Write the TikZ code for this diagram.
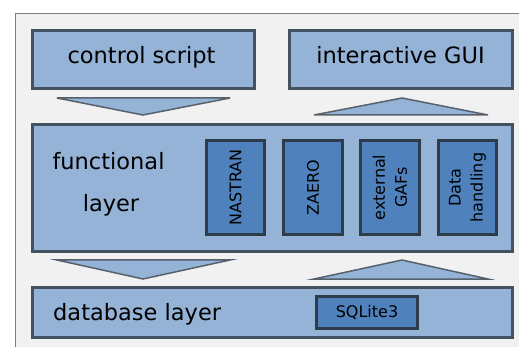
\documentclass[tikz,border=0pt]{standalone}
\usepackage{fontspec}
\setmainfont{DejaVu Sans}
\definecolor{lightbox}{HTML}{95B3D7}
\definecolor{darkbox}{HTML}{4F81BD}
\definecolor{edgecol}{HTML}{44515E}
\definecolor{inneredge}{HTML}{2E3B48}
\definecolor{bgfill}{HTML}{F1F1F1}
\definecolor{framecol}{HTML}{7F7F7F}
\definecolor{tricol}{HTML}{56616C}
\tikzset{
  layerbox/.style={draw=edgecol, fill=lightbox, line width=2.5pt, inner sep=0pt},
  modbox/.style={draw=inneredge, fill=darkbox, line width=3pt, inner sep=0pt},
  bigtext/.style={font=\fontsize{22.5}{26}\selectfont, inner sep=0pt, text=black},
  smalltext/.style={font=\fontsize{16}{22}\selectfont, inner sep=0pt, align=center, text=black},
  flowtri/.style={draw=tricol, fill=lightbox, line width=1.5pt, line join=miter}
}
\begin{document}
\begin{tikzpicture}[x=1pt,y=-1pt]
\useasboundingbox (0,0) rectangle (519,347);
\clip (0,0) rectangle (519,347);
\fill[white] (0,0) rectangle (519,347);
\draw[draw=framecol, fill=bgfill, line width=1.5pt] (15.5,13.5) rectangle (540,370);

% layer boxes
\node[layerbox, minimum width=222pt, minimum height=58pt] (ctrl) at (143.5,59.5) {};
\node[layerbox, minimum width=223pt, minimum height=58pt] (gui) at (401,59.5) {};
\node[layerbox, minimum width=480pt, minimum height=127pt] (func) at (272.5,188) {};
\node[layerbox, minimum width=480pt, minimum height=50pt] (db) at (272.5,312.5) {};

% texts of layer boxes
\node[bigtext, anchor=base] (ctrltxt) at (141.5,64) {control script};
\node[bigtext, anchor=base] (guitxt) at (400.5,64) {interactive GUI};
\node[bigtext, anchor=base] (functxt) at (108.5,170) {functional};
\node[bigtext, anchor=base] (laytxt) at (111,212) {layer};
\node[bigtext, anchor=base west] (dbtxt) at (53,320) {database layer};

% module boxes
\node[modbox, minimum width=58pt, minimum height=94pt] (nastran) at (235.5,187.5) {};
\node[modbox, minimum width=59pt, minimum height=94pt] (zaero) at (313,187.5) {};
\node[modbox, minimum width=59pt, minimum height=94pt] (gafs) at (390,187.5) {};
\node[modbox, minimum width=58pt, minimum height=94pt] (datah) at (467.5,187.5) {};
\node[modbox, minimum width=101pt, minimum height=32pt] (sqlite) at (367,312.5) {};

\node[smalltext, rotate=90] (nastrantxt) at (nastran.center) {NASTRAN};
\node[smalltext, rotate=90] (zaerotxt) at (zaero.center) {ZAERO};
\node[smalltext, rotate=90] (gafstxt) at (gafs.center) {external\\GAFs};
\node[smalltext, rotate=90] (datatxt) at (datah.center) {Data\\handling};
\node[smalltext] (sqlitetxt) at (sqlite.center) {SQLite3};

% flow triangles
\draw[flowtri] (57,98) -- (230,98) -- (143,115) -- cycle;
\draw[flowtri] (314,115) -- (488,115) -- (402,98) -- cycle;
\draw[flowtri] (57,260) -- (230,260) -- (143,279) -- cycle;
\draw[flowtri] (314,279) -- (488,279) -- (402,260) -- cycle;
\end{tikzpicture}
\end{document}
